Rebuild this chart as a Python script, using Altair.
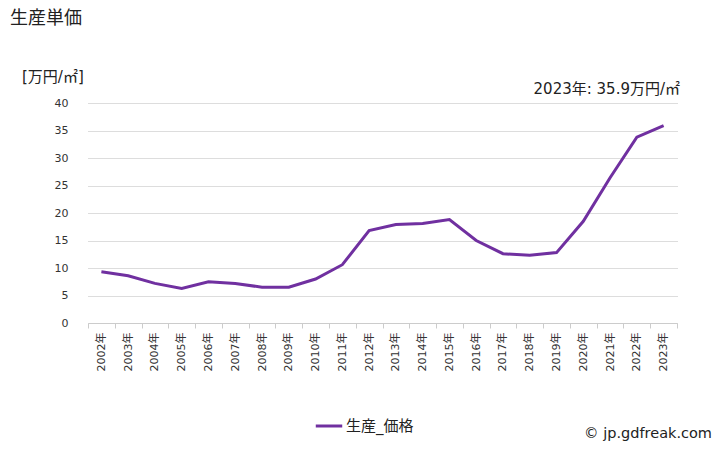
import altair as alt
import pandas as pd

years = [f"{y}年" for y in range(2002, 2024)]
values = [9.3, 8.6, 7.2, 6.3, 7.5, 7.2, 6.5, 6.5, 8.0, 10.6,
          16.8, 17.9, 18.1, 18.8, 15.0, 12.6, 12.3, 12.8, 18.5, 26.4, 33.8, 35.9]
series_name = "生産_価格"
title_text = "生産単価"
unit_text = "[万円/㎡]"
note_text = f"2023年: {values[-1]}万円/㎡"
credit_text = "© jp.gdfreak.com"

FONT = "DejaVu Sans, Noto Sans CJK JP"
df = pd.DataFrame({"year": years, "value": values, "series": series_name})

base = alt.Chart(df)

line = base.mark_line(strokeWidth=3, color="#7030A0").encode(
    x=alt.X("year:N", sort=years, title=None,
            scale=alt.Scale(paddingInner=0, paddingOuter=0),
            axis=alt.Axis(labelAngle=-90, tickBand="extent", grid=False,
                          domainColor="#cccccc", tickColor="#cccccc", tickSize=5,
                          labelFontSize=11, labelColor="#333333", labelFont=FONT,
                          labelPadding=4)),
    y=alt.Y("value:Q", title=None,
            scale=alt.Scale(domain=[0, 40]),
            axis=alt.Axis(values=list(range(0, 41, 5)), domain=False, ticks=False,
                          gridColor="#bbbbbb", gridDash=[1, 1],
                          labelFontSize=11, labelColor="#333333", labelFont=FONT,
                          labelPadding=20)),
    color=alt.Color("series:N", scale=alt.Scale(range=["#7030A0"]),
                    legend=alt.Legend(title=None, orient="none", legendX=226, legendY=308,
                                      symbolType="stroke", symbolStrokeWidth=3,
                                      symbolSize=700, labelOffset=2,
                                      labelFontSize=15, labelFont=FONT,
                                      labelColor="#222222")),
)

def label(text, x, y, size, align="left"):
    return alt.Chart(pd.DataFrame({"t": [text]})).mark_text(
        align=align, baseline="middle", fontSize=size, font=FONT, color="#222222"
    ).encode(text="t:N", x=alt.value(x), y=alt.value(y))

chart = alt.layer(
    line,
    label(title_text, -78, -84, 18),
    label(unit_text, -66, -26, 15),
    label(note_text, 592, -14, 15, align="right"),
    label(credit_text, 624, 331, 14.5, align="right"),
).properties(
    width=589, height=220,
    autosize=alt.AutoSizeParams(type="none"),
    padding={"left": 80, "top": 95, "right": 40, "bottom": 125},
).configure_view(stroke=None)

chart.save("out.html", embed_options={"renderer": "svg", "actions": False})
